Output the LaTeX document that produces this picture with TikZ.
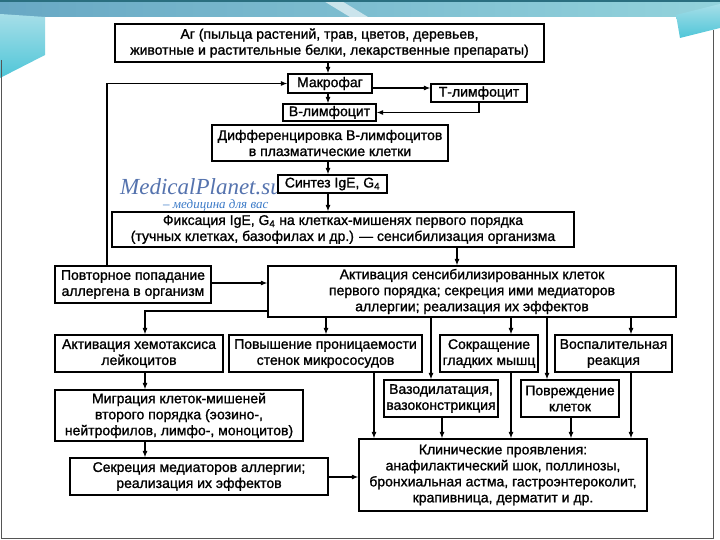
\documentclass[tikz,border=0pt]{standalone}
\usepackage{fontspec}
\setmainfont{Liberation Sans}
\newfontfamily\scanfont[FakeBold=1.2]{Liberation Sans}
\newfontfamily\wmfont{Liberation Serif}
\usetikzlibrary{arrows.meta}
\definecolor{banddark}{HTML}{2A6F80}
\definecolor{bandleft}{HTML}{68A8C4}
\definecolor{bandright}{HTML}{93D3DC}
\definecolor{swoosh}{HTML}{4FC6D8}
\definecolor{swooshlight}{HTML}{A6DEE8}
\definecolor{wmblue}{HTML}{5573AE}
\definecolor{wmblue2}{HTML}{3C7BC8}
\definecolor{framegray}{HTML}{555555}
\tikzset{
  box/.style={draw=black, line width=1.2pt, fill=white, align=center, inner sep=1pt,
    font=\scanfont\fontsize{14}{16}\selectfont, text=black},
  arr/.style={line width=1.1pt, -{Latex[length=6.5pt,width=5pt]}},
  ln/.style={line width=1.1pt}
}
\newcommand\bx[6]{\node[box,minimum width={(#4-#2)*1pt},minimum height={(#5-#3)*1pt}] (#1) at ({(#2+#4)/2},{(#3+#5)/2}) {#6};}
\begin{document}
\begin{tikzpicture}[x=1pt,y=-1pt]
\useasboundingbox (0,0) rectangle (720,540);
% background
\fill[white] (0,0) rectangle (720,540);
\shade[left color=bandleft, right color=bandright] (0,0) rectangle (720,17);
\fill[white,opacity=0.6] (322,0) -- (340,0) -- (368,17) -- (350,17) -- cycle;
\fill[banddark] (0,0) rectangle (720,2);
\shade[top color=swooshlight, bottom color=swoosh] (0,14) -- (45,17) -- (45,55) -- (0,78) -- cycle;
\shade[top color=swooshlight, bottom color=swoosh] (676,15) -- (720,4) -- (720,28) -- (680,38) -- cycle;
\draw[framegray, line width=1pt] (1.5,60) -- (1.5,538) -- (713,538) -- (713,30);
% watermark
\node[anchor=base west, inner sep=0, text=wmblue, font=\wmfont\itshape\fontsize{23}{23}\selectfont] (wm1) at (120,195) {MedicalPlanet.su};
\node[anchor=base west, inner sep=0, text=wmblue2, font=\wmfont\itshape\fontsize{13}{13}\selectfont] (wm2) at (163,208.5) {– медицина для вас};
% boxes
\bx{ag}{115}{24}{544}{62}{Аг (пыльца растений, трав, цветов, деревьев,\\животные и растительные белки, лекарственные препараты)}
\bx{mac}{288}{74}{372}{93}{Макрофаг}
\bx{tl}{431}{84}{527}{102}{Т-лимфоцит}
\bx{bl}{283}{104}{376}{121}{В-лимфоцит}
\bx{dif}{212}{125}{448}{161}{Дифференцировка В-лимфоцитов\\в плазматические клетки}
\bx{syn}{278}{175}{387}{193}{Синтез IgE, G\textsubscript{4}}
\bx{fix}{112}{212}{574}{247}{Фиксация IgE, G\textsubscript{4} на клетках-мишенях первого порядка\\(тучных клетках, базофилах и др.) — сенсибилизация организма}
\bx{rep}{55}{266}{211}{303}{Повторное попадание\\аллергена в организм}
\bx{act}{268}{266}{676}{317}{Активация сенсибилизированных клеток\\первого порядка; секреция ими медиаторов\\аллергии; реализация их эффектов}
\bx{chem}{55}{335}{223}{372}{Активация хемотаксиса\\лейкоцитов}
\bx{inc}{229}{335}{422}{372}{Повышение проницаемости\\стенок микрососудов}
\bx{smooth}{440}{335}{538}{372}{Сокращение\\гладких мышц}
\bx{infl}{555}{335}{672}{372}{Воспалительная\\реакция}
\bx{vaso}{384}{380}{498}{417}{Вазодилатация,\\вазоконстрикция}
\bx{dam}{521}{380}{619}{417}{Повреждение\\клеток}
\bx{mig}{55}{390}{303}{441}{Миграция клеток-мишеней\\второго порядка (эозино-,\\нейтрофилов, лимфо-, моноцитов)}
\bx{sec}{70}{458}{328}{495}{Секреция медиаторов аллергии;\\реализация их эффектов}
\bx{clin}{359}{439}{647}{511}{Клинические проявления:\\анафилактический шок, поллинозы,\\бронхиальная астма, гастроэнтероколит,\\крапивница, дерматит и др.}
% helper coordinates
\coordinate (c107) at (107,0);
\coordinate (c145) at (145,0);
\coordinate (c326) at (326,0);
\coordinate (c328) at (328,0);
\coordinate (c374) at (374,0);
\coordinate (c431) at (431,0);
\coordinate (c442) at (442,0);
\coordinate (c457) at (457,0);
\coordinate (c479) at (479,0);
\coordinate (c511) at (511,0);
\coordinate (c547) at (547,0);
\coordinate (c571) at (571,0);
\coordinate (c631) at (631,0);
\coordinate (r88) at (0,88);
\coordinate (r283) at (0,283);
\coordinate (r311) at (0,311);
\coordinate (r477) at (0,477);
% connectors
\draw[arr] (ag.south -| c328) -- (mac.north -| c328);
\draw[arr] (mac.east |- r88) -- (tl.west |- r88);
\draw[arr] (mac.south -| c328) -- (bl.north -| c328);
\draw[arr] (tl.south -| c479) |- (bl.east);
\draw[arr] (rep.north -| c107) |- (mac.west);
\draw[arr] (dif.south -| c328) -- (syn.north -| c328);
\draw[arr] (syn.south -| c328) -- (fix.north -| c328);
\draw[arr] (fix.south -| c457) -- (act.north -| c457);
\draw[arr] (rep.east |- r283) -- (act.west |- r283);
\draw[arr] (act.west |- r311) -| (chem.north -| c145);
\draw[arr] (act.south -| c326) -- (inc.north -| c326);
\draw[arr] (act.south -| c431) -- (vaso.north -| c431);
\draw[arr] (act.south -| c511) -- (smooth.north -| c511);
\draw[arr] (act.south -| c547) -- (dam.north -| c547);
\draw[arr] (act.south -| c631) -- (infl.north -| c631);
\draw[arr] (chem.south -| c145) -- (mig.north -| c145);
\draw[arr] (mig.south -| c145) -- (sec.north -| c145);
\draw[arr] (sec.east |- r477) -- (clin.west |- r477);
\draw[arr] (inc.south -| c374) -- (clin.north -| c374);
\draw[arr] (vaso.south -| c442) -- (clin.north -| c442);
\draw[arr] (smooth.south -| c511) -- (clin.north -| c511);
\draw[arr] (dam.south -| c571) -- (clin.north -| c571);
\draw[arr] (infl.south -| c631) -- (clin.north -| c631);
\end{tikzpicture}
\end{document}
